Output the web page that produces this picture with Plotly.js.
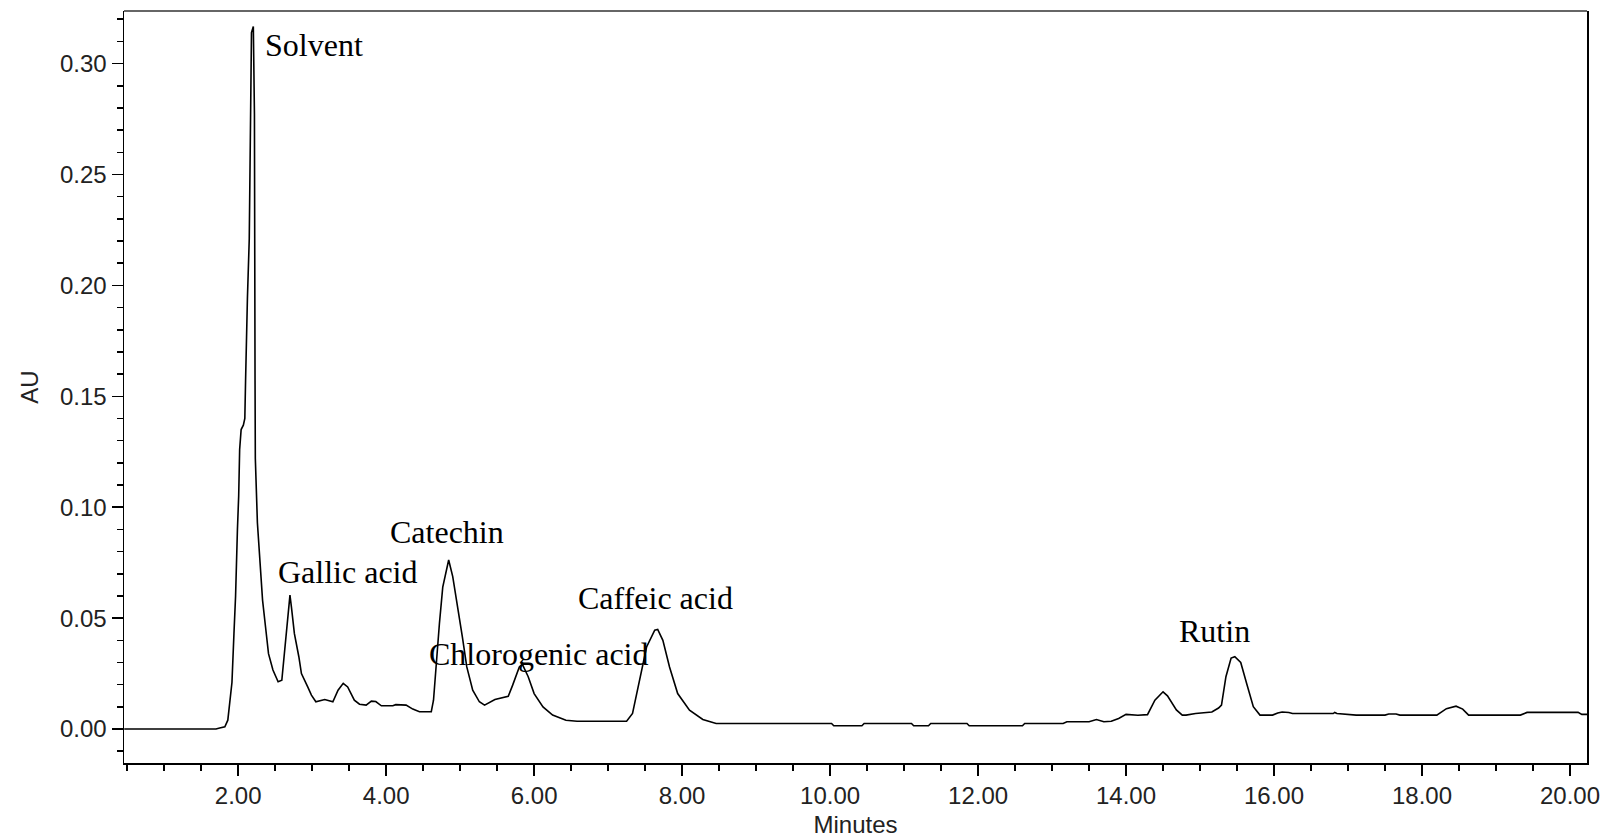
<!DOCTYPE html>
<html>
<head>
<meta charset="utf-8">
<script src="https://cdn.plot.ly/plotly-3.0.1.min.js"></script>
<style>html,body{margin:0;padding:0;background:#fff;}#chart{width:1612px;height:839px;}</style>
</head>
<body>
<div id="chart"></div>
<script>
// Retention time (minutes) and absorbance (AU)
const timeMin = [0.46, 1.70, 1.75, 1.82, 1.86, 1.895, 1.916, 1.943, 1.965, 1.99, 2.007, 2.02, 2.04, 2.07, 2.09, 2.10, 2.11, 2.125, 2.15, 2.17, 2.18, 2.205, 2.215, 2.22, 2.228, 2.232, 2.26, 2.295, 2.33, 2.37, 2.41, 2.47, 2.54, 2.59, 2.63, 2.67, 2.70, 2.72, 2.76, 2.82, 2.855, 2.94, 2.99, 3.05, 3.17, 3.28, 3.35, 3.42, 3.48, 3.57, 3.64, 3.73, 3.80, 3.86, 3.935, 4.09, 4.13, 4.27, 4.36, 4.45, 4.61, 4.64, 4.67, 4.72, 4.765, 4.845, 4.90, 4.97, 5.03, 5.09, 5.17, 5.26, 5.33, 5.47, 5.65, 5.71, 5.80, 5.84, 5.92, 6.00, 6.12, 6.25, 6.43, 6.58, 7.25, 7.33, 7.43, 7.52, 7.63, 7.67, 7.74, 7.83, 7.94, 8.10, 8.28, 8.41, 8.46, 10.02, 10.05, 10.43, 10.46, 11.10, 11.13, 11.33, 11.36, 11.85, 11.88, 12.60, 12.63, 13.15, 13.20, 13.50, 13.60, 13.70, 13.80, 13.90, 14.00, 14.16, 14.29, 14.39, 14.50, 14.56, 14.68, 14.76, 14.81, 14.94, 15.16, 15.25, 15.29, 15.35, 15.42, 15.47, 15.55, 15.63, 15.72, 15.81, 15.98, 16.05, 16.11, 16.20, 16.25, 16.80, 16.82, 16.85, 17.11, 17.50, 17.55, 17.65, 17.70, 18.20, 18.33, 18.46, 18.55, 18.63, 19.33, 19.42, 20.11, 20.16, 20.23];
const absorbanceAU = [0.0, 0.0, 0.0005, 0.001, 0.004, 0.013, 0.021, 0.043, 0.060, 0.090, 0.105, 0.126, 0.135, 0.137, 0.140, 0.157, 0.177, 0.194, 0.221, 0.277, 0.314, 0.3167, 0.300, 0.277, 0.157, 0.122, 0.093, 0.073, 0.058, 0.046, 0.034, 0.0266, 0.0213, 0.022, 0.037, 0.052, 0.0604, 0.055, 0.043, 0.0326, 0.025, 0.019, 0.0153, 0.0123, 0.0133, 0.0123, 0.0175, 0.0206, 0.019, 0.013, 0.0112, 0.0108, 0.0126, 0.0124, 0.0105, 0.0105, 0.011, 0.0108, 0.009, 0.0078, 0.0078, 0.013, 0.0266, 0.0476, 0.064, 0.0762, 0.0687, 0.0551, 0.0416, 0.028, 0.0175, 0.0123, 0.0108, 0.0133, 0.0148, 0.0198, 0.028, 0.0293, 0.0236, 0.016, 0.010, 0.0063, 0.004, 0.0035, 0.0035, 0.007, 0.022, 0.037, 0.0446, 0.0449, 0.040, 0.028, 0.016, 0.0085, 0.0043, 0.0028, 0.0025, 0.0025, 0.0015, 0.0015, 0.0025, 0.0025, 0.0015, 0.0015, 0.0025, 0.0025, 0.0015, 0.0015, 0.0025, 0.0025, 0.0033, 0.0033, 0.0043, 0.0033, 0.0035, 0.0048, 0.0066, 0.0062, 0.0065, 0.013, 0.0168, 0.015, 0.0086, 0.0063, 0.0063, 0.007, 0.0077, 0.0095, 0.0108, 0.0236, 0.032, 0.0326, 0.030, 0.0205, 0.0101, 0.0063, 0.0063, 0.0072, 0.0077, 0.0075, 0.007, 0.0070, 0.0075, 0.007, 0.0063, 0.0063, 0.0068, 0.0068, 0.0063, 0.0063, 0.0092, 0.0103, 0.009, 0.0063, 0.0063, 0.0075, 0.0075, 0.0066, 0.0066];

// Peak labels
const peakLabels = ["Solvent", "Gallic acid", "Catechin", "Chlorogenic acid", "Caffeic acid", "Rutin"];
const xTitle = "Minutes";
const yTitle = "AU";

// label placement (data coordinates of the left/middle of each label)
const labelX = [2.33, 2.51, 4.02, 4.55, 6.56, 14.69];
const labelY = [0.3083, 0.0708, 0.0888, 0.0338, 0.0593, 0.0442];

const annotations = peakLabels.map((t, i) => ({
  x: labelX[i], y: labelY[i], xref: 'x', yref: 'y',
  text: t, showarrow: false, xanchor: 'left', yanchor: 'middle',
  font: {family: '"Liberation Serif", "Times New Roman", serif', size: 32, color: '#000'}
}));

const tickFont = {family: '"Liberation Sans", Arial, sans-serif', size: 24, color: '#222'};

const trace = {
  x: timeMin, y: absorbanceAU, type: 'scatter', mode: 'lines',
  line: {color: '#000', width: 1.6, shape: 'linear'},
  hoverinfo: 'x+y'
};

const layout = {
  width: 1612, height: 839,
  margin: {l: 124, r: 25, t: 11, b: 76},
  paper_bgcolor: '#fff', plot_bgcolor: '#fff',
  showlegend: false,
  xaxis: {
    range: [0.457, 20.23], tick0: 0, dtick: 2, tickformat: '.2f',
    ticks: 'outside', ticklen: 11, tickwidth: 1.5, tickcolor: '#000',
    minor: {dtick: 0.5, ticks: 'outside', ticklen: 6, tickwidth: 1.5, tickcolor: '#000'},
    showline: true, linecolor: '#000', linewidth: 1.5, mirror: false,
    showgrid: false, zeroline: false,
    tickfont: tickFont,
    title: {text: xTitle, font: tickFont, standoff: 8}
  },
  yaxis: {
    range: [-0.0153, 0.3237], tick0: 0, dtick: 0.05, tickformat: '.2f',
    ticks: 'outside', ticklen: 11, tickwidth: 1.5, tickcolor: '#000',
    minor: {dtick: 0.01, ticks: 'outside', ticklen: 6, tickwidth: 1.5, tickcolor: '#000'},
    showline: true, linecolor: '#000', linewidth: 1.5, mirror: true,
    showgrid: false, zeroline: false,
    tickfont: tickFont,
    title: {text: yTitle, font: tickFont, standoff: 14}
  },
  shapes: [{type: 'line', xref: 'paper', yref: 'paper', x0: 0, x1: 1, y0: 1, y1: 1,
            line: {color: '#666', width: 2.2}}],
  annotations: annotations
};

Plotly.newPlot('chart', [trace], layout, {displayModeBar: false, staticPlot: true});
</script>
</body>
</html>
